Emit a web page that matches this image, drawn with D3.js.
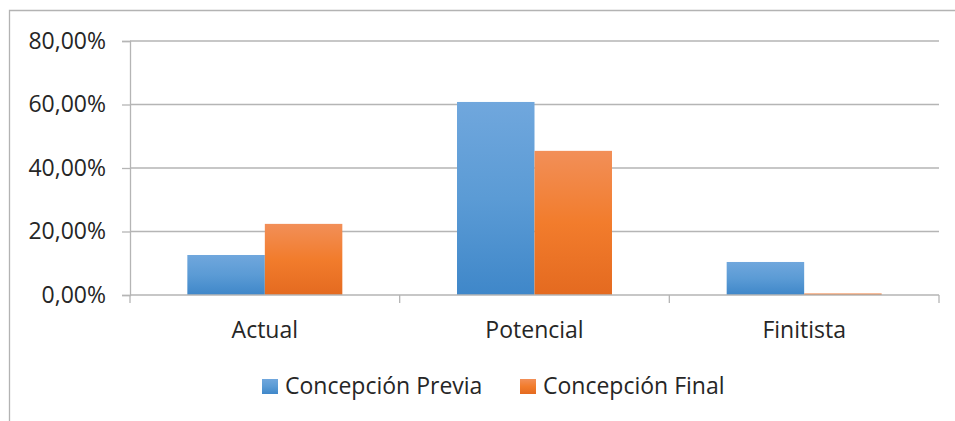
<!DOCTYPE html>
<html>
<head>
<meta charset="utf-8">
<script src="https://cdn.jsdelivr.net/npm/d3@7"></script>
<style>
  html, body { margin: 0; padding: 0; background: #fff; }
  svg { display: block; font-family: "Open Sans", sans-serif; }
</style>
</head>
<body>
<svg id="chart" width="955" height="421"></svg>
<script>
// Categories, series and tick values
const categories = ["Actual", "Potencial", "Finitista"];
const seriesNames = ["Concepción Previa", "Concepción Final"];
const previa = [12.6, 60.8, 10.4];
const final = [22.4, 45.4, 0.5];
const yTicks = [0, 20, 40, 60, 80];

const W = 955, H = 421;
const margin = { top: 41, right: 16, bottom: 126, left: 130 };
const svg = d3.select("#chart");

// Chart frame (top and left edges)
svg.append("path")
  .attr("d", `M9.5,${H} V10.5 H${W}`)
  .attr("fill", "none")
  .attr("stroke", "#b3b3b3")
  .attr("stroke-width", 1.3);

const x0 = d3.scaleBand().domain(categories).range([margin.left, W - margin.right]);
const x1 = d3.scaleBand().domain(seriesNames).range([0, x0.bandwidth()]).paddingInner(0).paddingOuter(0.74);
const y = d3.scaleLinear().domain([0, 80]).range([H - margin.bottom, margin.top]);

// Gradients for the bars
const defs = svg.append("defs");
const grads = [
  { id: "gBlue", stops: ["#70a7dd", "#5b9bd5", "#3f87c9"] },
  { id: "gOrange", stops: ["#f28f58", "#f27c2c", "#e46a20"] }
];
grads.forEach(g => {
  const lg = defs.append("linearGradient").attr("id", g.id)
    .attr("x1", 0).attr("y1", 0).attr("x2", 0).attr("y2", 1);
  g.stops.forEach((c, i) => lg.append("stop").attr("offset", i / 2).attr("stop-color", c));
});

// Horizontal gridlines
svg.append("g")
  .selectAll("line")
  .data(yTicks.filter(t => t > 0))
  .join("line")
  .attr("x1", margin.left).attr("x2", W - margin.right)
  .attr("y1", d => y(d)).attr("y2", d => y(d))
  .attr("stroke", "#b5b5b5").attr("stroke-width", 1.3);

// Y axis
const yAxis = svg.append("g")
  .attr("transform", `translate(${margin.left},0)`)
  .call(d3.axisLeft(y).tickValues(yTicks).tickSize(8).tickPadding(16)
    .tickFormat(d => d3.format(".2f")(d).replace(".", ",") + "%"));
yAxis.select(".domain").attr("stroke", "#b5b5b5").attr("stroke-width", 1.3);
yAxis.selectAll(".tick line").attr("stroke", "#b5b5b5").attr("stroke-width", 1.3);
yAxis.selectAll(".tick text")
  .attr("fill", "#262626").attr("font-size", 23).attr("font-family", "Open Sans, sans-serif");

// Bars
const data = categories.map((c, i) => ({ cat: c, vals: [previa[i], final[i]] }));
const gCat = svg.append("g").selectAll("g")
  .data(data).join("g")
  .attr("transform", d => `translate(${x0(d.cat)},0)`);
gCat.selectAll("rect")
  .data(d => d.vals.map((v, j) => ({ name: seriesNames[j], v, j })))
  .join("rect")
  .attr("x", d => x1(d.name))
  .attr("width", x1.bandwidth())
  .attr("y", d => y(d.v))
  .attr("height", d => y(0) - y(d.v))
  .attr("fill", d => d.j === 0 ? "url(#gBlue)" : "url(#gOrange)");

// X axis with category boundary ticks
const xAxis = svg.append("g").attr("transform", `translate(0,${y(0)})`);
xAxis.append("line")
  .attr("x1", margin.left).attr("x2", W - margin.right)
  .attr("stroke", "#b5b5b5").attr("stroke-width", 1.3);
const bounds = categories.map(c => x0(c)).concat([x0(categories[categories.length - 1]) + x0.bandwidth()]);
xAxis.selectAll("line.b").data(bounds).join("line").attr("class", "b")
  .attr("x1", d => d).attr("x2", d => d).attr("y1", 0).attr("y2", 8)
  .attr("stroke", "#b5b5b5").attr("stroke-width", 1.3);
xAxis.selectAll("text").data(categories).join("text")
  .attr("x", d => x0(d) + x0.bandwidth() / 2)
  .attr("y", 43)
  .attr("text-anchor", "middle")
  .attr("fill", "#262626").attr("font-size", 23)
  .text(d => d);

// Legend
const legendItems = [
  { name: seriesNames[0], fill: "url(#gBlue)", x: 262 },
  { name: seriesNames[1], fill: "url(#gOrange)", x: 520 }
];
const lg = svg.append("g").selectAll("g").data(legendItems).join("g")
  .attr("transform", d => `translate(${d.x},379)`);
lg.append("rect").attr("width", 16).attr("height", 15).attr("fill", d => d.fill);
lg.append("text").attr("x", 23).attr("y", 14.5)
  .attr("fill", "#262626").attr("font-size", 23)
  .text(d => d.name);
</script>
</body>
</html>
